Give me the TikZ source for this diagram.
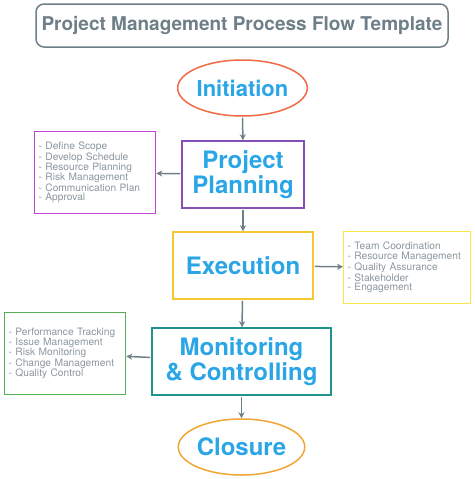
\documentclass[tikz,border=0pt]{standalone}
\usepackage{fontspec}
\setmainfont{TeX Gyre Heros}
\usetikzlibrary{shapes.geometric,arrows.meta}
\definecolor{titlegray}{HTML}{6F7F88}
\definecolor{listgray}{HTML}{8A969E}
\definecolor{stepblue}{HTML}{2AA5E6}
\definecolor{initred}{HTML}{F06A45}
\definecolor{planpurple}{HTML}{8550B5}
\definecolor{listmagenta}{HTML}{C045D0}
\definecolor{execyellow}{HTML}{F5C832}
\definecolor{listyellow}{HTML}{F7E84A}
\definecolor{monteal}{HTML}{20948C}
\definecolor{listgreen}{HTML}{55B055}
\definecolor{closeorange}{HTML}{F0A535}
\tikzset{
  phase/.style={draw, line width=1.5pt, text=stepblue, font=\fontsize{24}{25}\selectfont\bfseries,
    align=center, inner sep=0pt},
  oval/.style={phase, ellipse, minimum width=125pt, minimum height=56pt},
  tasks/.style={draw, line width=1.3pt, text=listgray, font=\fontsize{10.2}{9.8}\selectfont,
    align=left, inner sep=4pt, anchor=north west},
  link/.style={draw=titlegray, line width=1.5pt, -{Stealth[length=6pt,width=6pt]}, shorten <=1pt}
}
\begin{document}
\begin{tikzpicture}[x=1pt,y=-1pt]
  \useasboundingbox (0,0) rectangle (474,479);
  \node (title) at (242,25.5) [draw=titlegray, line width=1.5pt, rounded corners=8pt,
    minimum width=412pt, minimum height=43pt, text=titlegray,
    font=\fontsize{19}{22}\selectfont\bfseries] {Project Management Process Flow Template};
  \node (init) at (242.5,88) [oval, draw=initred, font=\fontsize{22}{25}\selectfont\bfseries] {Initiation};
  \node (plan) at (243,174.5) [phase, draw=planpurple, minimum width=122pt, minimum height=67pt]
    {Project\\Planning};
  \node (exec) at (243,265.5) [phase, draw=execyellow, minimum width=140pt, minimum height=67pt]
    {Execution};
  \node (mon) at (241.5,361.5) [phase, draw=monteal, minimum width=179pt, minimum height=67pt]
    {Monitoring\\\& Controlling};
  \node (close) at (241.5,447) [oval, draw=closeorange] {Closure};
  \node (plantasks) at (34,131) [tasks, draw=listmagenta, text width=113pt, minimum height=82pt]
    {- Define Scope\\- Develop Schedule\\- Resource Planning\\- Risk Management\\- Communication Plan\\- Approval};
  \node (exectasks) at (343,231) [tasks, draw=listyellow, text width=119pt, minimum height=72pt]
    {- Team Coordination\\- Resource Management\\- Quality Assurance\\- Stakeholder\\- Engagement};
  \node (montasks) at (4,312) [tasks, draw=listgreen, text width=113pt, minimum height=82pt]
    {- Performance Tracking\\- Issue Management\\- Risk Monitoring\\- Change Management\\- Quality Control};
  \draw [link] (init) -- (plan);
  \draw [link] (plan) -- (exec);
  \draw [link] (exec) -- (mon);
  \draw [link] (mon) -- (close);
  \draw [link] (plan) -- (plantasks);
  \draw [link] (exec) -- (exectasks);
  \draw [link] (mon) -- (montasks);
\end{tikzpicture}
\end{document}
